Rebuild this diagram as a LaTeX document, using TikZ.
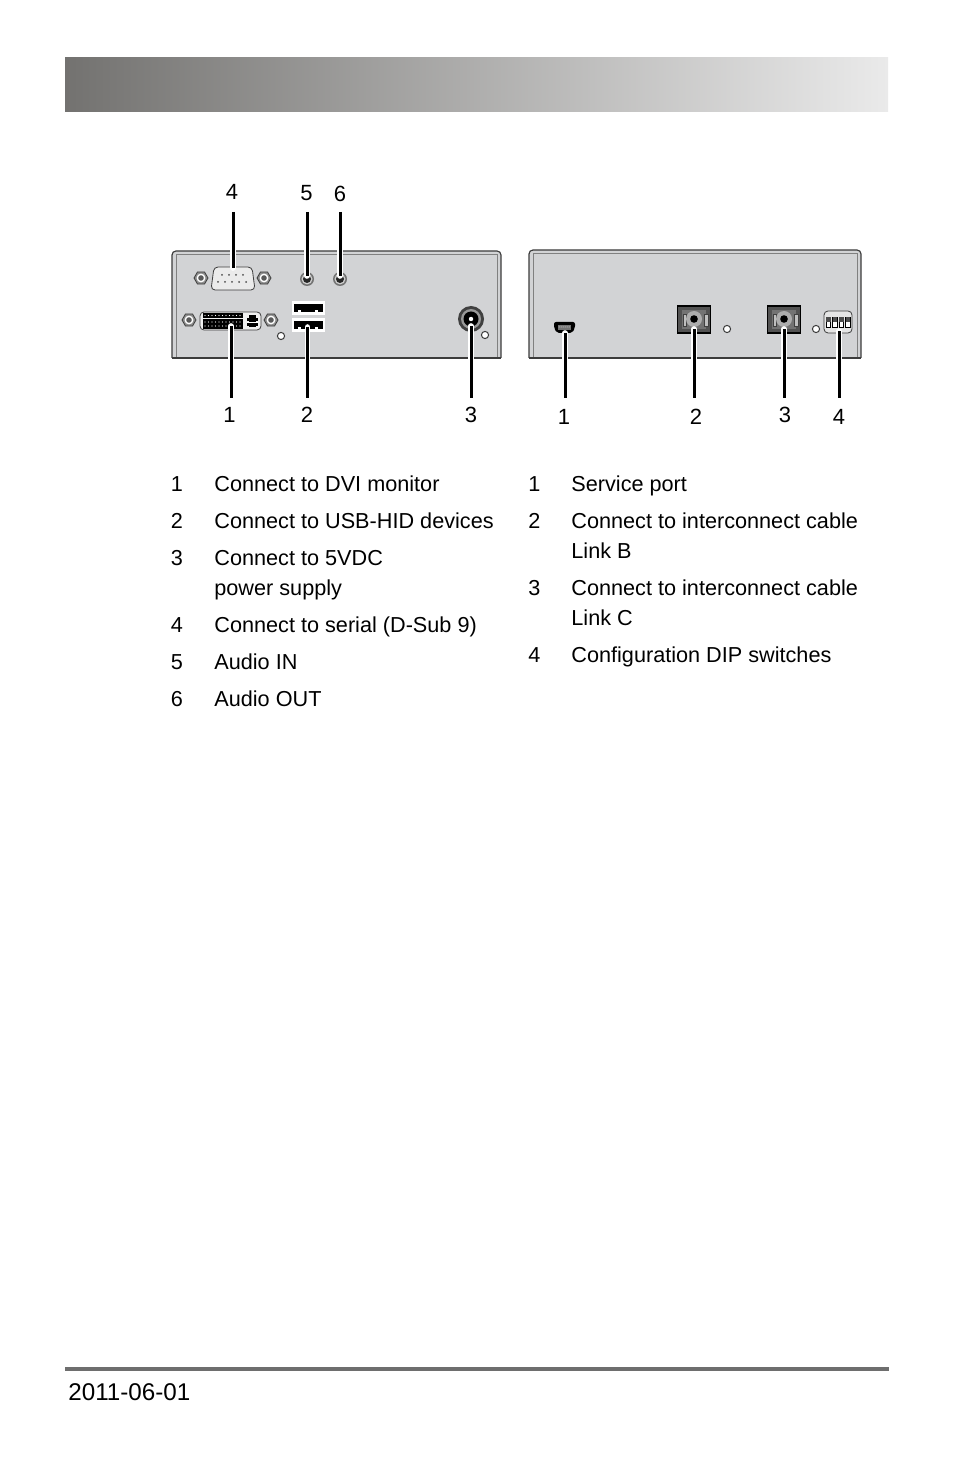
\documentclass[tikz,border=0pt]{standalone}
\usepackage{fontspec}
\setmainfont{Liberation Sans}
\usetikzlibrary{shapes.geometric}
\definecolor{panelgray}{HTML}{D2D3D5}
\definecolor{edgegray}{HTML}{3C3C3C}
\definecolor{barleft}{HTML}{737270}
\definecolor{barmid}{HTML}{C0C0C0}
\definecolor{barright}{HTML}{EAEAEA}
\definecolor{rulegray}{HTML}{6E6E6E}
\tikzset{
  num/.style={inner sep=0pt, font=\fontsize{11}{15}\selectfont},
  txt/.style={inner sep=0pt, anchor=base west, font=\fontsize{10.83}{15}\selectfont},
  leader/.style={line width=1.5pt, black, preaction={draw=white, line width=2.8pt, line cap=round}},
  led/.style={circle, draw=edgegray, fill=white, line width=0.5pt, minimum size=3.6pt, inner sep=0pt},
  fibre/.pic={
    \draw[fill=black!68, draw=black, line width=0.6pt] (-16.5,-13) rectangle (16.5,14);
    \fill[black!55] (-12,-9) rectangle (12,10);
    \draw[fill=black!25, draw=black!75, line width=0.3pt] (-11,-5) rectangle (-8,7);
    \draw[fill=black!25, draw=black!75, line width=0.3pt] (10,-5) rectangle (14,7);
    \fill[black!32] (0,0) circle (8);
    \fill[black] (0,0) circle (3.8);
  },
  screw/.pic={
    \node[regular polygon, regular polygon sides=6, draw=edgegray, fill=black!45, line width=0.4pt, minimum size=7pt, inner sep=0pt] {};
    \fill[white] (0,0) circle (4.4);
    \fill[black!65] (0,0) circle (2.8);
  },
  audio/.pic={
    \fill[black!55] (0,0) circle (7);
    \fill[white!80!black] (0,0) circle (5.5);
    \fill[black!85] (0,0) circle (4);
  },
  usbport/.pic={
    \draw[fill=white, draw=white] (0,0) rectangle (32,13);
    \fill[black] (1.5,3) rectangle (30.5,11);
    \fill[white] (6,9) rectangle (9,11);
    \fill[white] (23,9) rectangle (26,11);
  },
}
\begin{document}
\begin{tikzpicture}[x=0.5pt, y=-0.5pt]
  \useasboundingbox (0,0) rectangle (954,1475);

  % header and footer
  \fill[left color=barleft, middle color=barmid, right color=barright] (65,58) rectangle (888,112);
  \fill[rulegray] (65,1367) rectangle (889,1371);
  \node[inner sep=0pt, anchor=base west, font=\fontsize{12.1}{15}\selectfont] (date) at (68,1400) {2011-06-01};

  % left panel
  \fill[panelgray] (172,358) -- (172,255) -- (176,251) -- (497,251) -- (501,255) -- (501,358) -- cycle;
  \draw[edgegray, line width=0.6pt, rounded corners=2pt] (172,358) -- (172,251) -- (501,251) -- (501,358);
  \draw[black!50, line width=0.3pt] (176,358) -- (176,254) -- (497,254) -- (497,358);
  \draw[edgegray, line width=0.7pt] (172,358) -- (501,358);

  % serial port
  \draw[fill=black!8, draw=edgegray, line width=0.4pt, rounded corners=2pt] (214,267) -- (252,267) -- (255,290) -- (211,290) -- cycle;
  \foreach \x in {222,229,236,243} \fill[black!70] (\x,275) circle (1);
  \foreach \x in {218,225,232,239,246} \fill[black!70] (\x,282) circle (1);
  \pic at (201,278) {screw};
  \pic at (264,278) {screw};
  \pic at (307,279) {audio};
  \pic at (340,279) {audio};

  % DVI port
  \draw[fill=black!6, draw=edgegray, line width=0.4pt, rounded corners=2pt] (200,312) rectangle (261,330);
  \fill[black] (203,313) rectangle (243,318);
  \fill[black] (203,319) rectangle (243,329);
  \foreach \x in {205,208.5,...,242} {
    \fill[white] (\x,315.5) circle (0.6);
    \fill[white] (\x,322) circle (0.6);
    \fill[white] (\x,326) circle (0.6);
  }
  \fill[black] (249,315) rectangle (256,327);
  \fill[black] (247,318) rectangle (258,321);
  \fill[black] (247,323) rectangle (258,326);
  \fill[white] (247,321.6) rectangle (258,322.4);
  \pic at (189,320) {screw};
  \pic at (271,320) {screw};
  \node[led] (ledA) at (281,336) {};

  % USB ports
  \pic at (292,301) {usbport};
  \pic at (292,318) {usbport};

  % power socket
  \fill[black!75] (471,319) circle (13);
  \fill[black!40] (471,319) circle (10);
  \fill[black] (471,319) circle (7.5);
  \fill[white] (471,319) circle (2.2);
  \node[led] (ledB) at (485,335) {};

  % right panel
  \fill[panelgray] (529,358) -- (529,254) -- (533,250) -- (857,250) -- (861,254) -- (861,358) -- cycle;
  \draw[edgegray, line width=0.6pt, rounded corners=2pt] (529,358) -- (529,250) -- (861,250) -- (861,358);
  \draw[black!50, line width=0.3pt] (533,358) -- (533,253) -- (857,253) -- (857,358);
  \draw[edgegray, line width=0.7pt] (529,358) -- (861,358);

  % service port
  \fill[black, rounded corners=1pt] (554,322) -- (575,322) -- (575,328) -- (572,333) -- (557,333) -- (554,328) -- cycle;
  \fill[black!55] (558,325) rectangle (571,330);
  \foreach \x in {559,561,...,570} \fill[white] (\x,327) circle (0.5);

  % fibre ports
  \pic at (694,319) {fibre};
  \pic at (784,319) {fibre};
  \node[led] (ledC) at (727,329) {};
  \node[led] (ledD) at (816,329) {};

  % DIP switches
  \draw[fill=black!10, draw=edgegray, line width=0.4pt, rounded corners=2pt] (824,311) rectangle (852,333);
  \foreach \x in {826,832.5,839,845.5} {
    \draw[fill=white, draw=black, line width=0.4pt] (\x,317) rectangle (\x+4.6,327);
    \fill[black!70] (\x,317) rectangle (\x+4.6,322);
  }

  % numbers
  \node[num] (top4) at (232,191.5) {4};
  \node[num] (top5) at (306.5,193.5) {5};
  \node[num] (top6) at (340,193.5) {6};
  \node[num] (bot1) at (229.5,415) {1};
  \node[num] (bot2) at (307,415) {2};
  \node[num] (bot3) at (471,415) {3};
  \node[num] (rgt1) at (564,416.5) {1};
  \node[num] (rgt2) at (696,416.5) {2};
  \node[num] (rgt3) at (785,415) {3};
  \node[num] (rgt4) at (839,416.5) {4};

  % leader ends
  \coordinate (e4) at (233,212);   \coordinate (serial) at (233,268);
  \coordinate (e5) at (307,212);   \coordinate (audioin) at (307,276);
  \coordinate (e6) at (340,212);   \coordinate (audioout) at (340,276);
  \coordinate (e1) at (231,398);   \coordinate (dvi) at (231,326);
  \coordinate (e2) at (307.5,398); \coordinate (usb) at (307.5,327);
  \coordinate (e3) at (471,398);   \coordinate (power) at (471,326);
  \coordinate (f1) at (565,398);   \coordinate (service) at (565,333);
  \coordinate (f2) at (694,398);   \coordinate (linkb) at (694,329);
  \coordinate (f3) at (784,398);   \coordinate (linkc) at (784,329);
  \coordinate (f4) at (839,398);   \coordinate (dip) at (839,331);

  \draw[leader] (e4) -- (serial);
  \draw[leader] (e5) -- (audioin);
  \draw[leader] (e6) -- (audioout);
  \draw[leader] (e1) -- (dvi);
  \draw[leader] (e2) -- (usb);
  \draw[leader] (e3) -- (power);
  \draw[leader] (f1) -- (service);
  \draw[leader] (f2) -- (linkb);
  \draw[leader] (f3) -- (linkc);
  \draw[leader] (f4) -- (dip);

  % left list
  \node[txt] (a1) at (170.5,492) {1};
  \node[txt] (a2) at (170.5,529) {2};
  \node[txt] (a3) at (170.5,565.5) {3};
  \node[txt] (a4) at (170.5,632.5) {4};
  \node[txt] (a5) at (170.5,669.5) {5};
  \node[txt] (a6) at (170.5,706.5) {6};
  \node[txt] (b1) at (214,492) {Connect to DVI monitor};
  \node[txt] (b2) at (214,529) {Connect to USB-HID devices};
  \node[txt] (b3) at (214,565.5) {Connect to 5VDC};
  \node[txt] (b3a) at (214,595.5) {power supply};
  \node[txt] (b4) at (214,632.5) {Connect to serial (D-Sub 9)};
  \node[txt] (b5) at (214,669.5) {Audio IN};
  \node[txt] (b6) at (214,706.5) {Audio OUT};

  % right list
  \node[txt] (c1) at (528,492) {1};
  \node[txt] (c2) at (528,529) {2};
  \node[txt] (c3) at (528,595.5) {3};
  \node[txt] (c4) at (528,662.5) {4};
  \node[txt] (d1) at (571,492) {Service port};
  \node[txt] (d2) at (571,529) {Connect to interconnect cable};
  \node[txt] (d2a) at (571,558.5) {Link B};
  \node[txt] (d3) at (571,595.5) {Connect to interconnect cable};
  \node[txt] (d3a) at (571,625.5) {Link C};
  \node[txt] (d4) at (571,662.5) {Configuration DIP switches};
\end{tikzpicture}
\end{document}
